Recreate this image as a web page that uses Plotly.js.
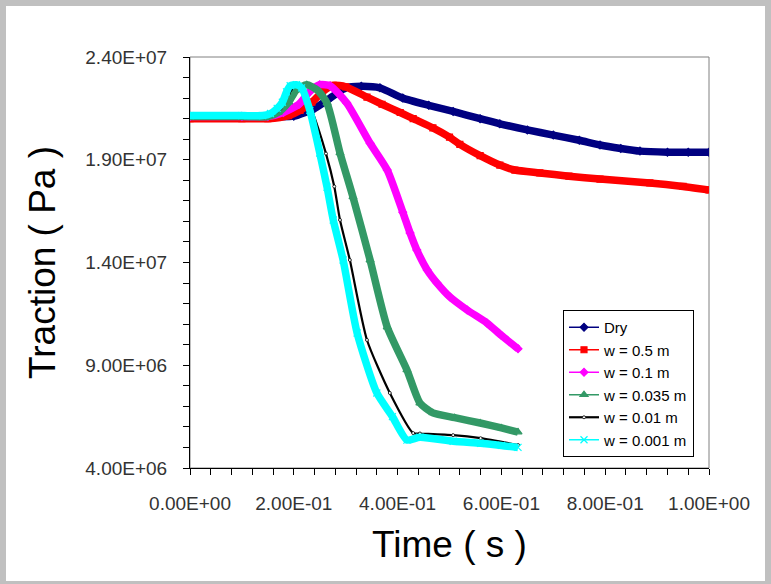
<!DOCTYPE html>
<html><head><meta charset="utf-8">
<script src="https://cdn.plot.ly/plotly-3.0.1.min.js"></script>
<style>
html,body{margin:0;padding:0;background:#C0C0C0;width:771px;height:584px;overflow:hidden}
#chart{position:absolute;left:6px;top:6px;width:759px;height:575px;background:#fff}
</style>
</head><body><div id="chart"></div>
<script>
// ---- data ----
const seriesNames = ["Dry", "w = 0.5 m", "w = 0.1 m", "w = 0.035 m", "w = 0.01 m", "w = 0.001 m"];

const timeDry = [0, 0.1, 0.15, 0.2, 0.24, 0.27, 0.3, 0.33, 0.366, 0.41, 0.46, 0.507, 0.559, 0.597, 0.65, 0.7, 0.75, 0.79, 0.83, 0.867, 0.92, 0.96, 1.0];
const tractionDry = [2.11e7, 2.11e7, 2.11e7, 2.112e7, 2.15e7, 2.2e7, 2.25e7, 2.258e7, 2.25e7, 2.2e7, 2.165e7, 2.135e7, 2.1e7, 2.075e7, 2.045e7, 2.02e7, 1.995e7, 1.972e7, 1.955e7, 1.942e7, 1.937e7, 1.937e7, 1.937e7];

const timeW05 = [0, 0.1, 0.15, 0.19, 0.212, 0.235, 0.255, 0.276, 0.3, 0.341, 0.37, 0.405, 0.43, 0.468, 0.5, 0.52, 0.559, 0.597, 0.626, 0.674, 0.73, 0.79, 0.886, 0.95, 1.0];
const tractionW05 = [2.10e7, 2.10e7, 2.10e7, 2.115e7, 2.14e7, 2.18e7, 2.23e7, 2.262e7, 2.255e7, 2.205e7, 2.17e7, 2.13e7, 2.10e7, 2.055e7, 2.01e7, 1.975e7, 1.92e7, 1.874e7, 1.85e7, 1.836e7, 1.82e7, 1.806e7, 1.787e7, 1.77e7, 1.753e7];

const timeW01 = [0, 0.1, 0.15, 0.18, 0.21, 0.23, 0.25, 0.27, 0.302, 0.347, 0.38, 0.41, 0.424, 0.437, 0.457, 0.476, 0.501, 0.534, 0.572, 0.6, 0.632];
const tractionW01 = [2.11e7, 2.11e7, 2.11e7, 2.13e7, 2.17e7, 2.23e7, 2.265e7, 2.26e7, 2.176e7, 1.98e7, 1.85e7, 1.645e7, 1.544e7, 1.461e7, 1.364e7, 1.3e7, 1.232e7, 1.169e7, 1.106e7, 1.045e7, 9.8e6];

const timeW0035 = [0, 0.1, 0.15, 0.17, 0.19, 0.205, 0.225, 0.245, 0.264, 0.289, 0.314, 0.347, 0.38, 0.418, 0.443, 0.468, 0.51, 0.559, 0.6, 0.632];
const tractionW0035 = [2.11e7, 2.11e7, 2.11e7, 2.13e7, 2.18e7, 2.24e7, 2.265e7, 2.24e7, 2.176e7, 1.933e7, 1.719e7, 1.412e7, 1.086e7, 8.77e6, 7.16e6, 6.68e6, 6.45e6, 6.19e6, 5.95e6, 5.75e6];

const timeW001 = [0, 0.1, 0.14, 0.16, 0.175, 0.19, 0.205, 0.215, 0.235, 0.262, 0.278, 0.289, 0.308, 0.341, 0.385, 0.43, 0.443, 0.507, 0.56, 0.632];
const tractionW001 = [2.11e7, 2.11e7, 2.11e7, 2.12e7, 2.15e7, 2.22e7, 2.265e7, 2.26e7, 2.14e7, 1.93e7, 1.77e7, 1.607e7, 1.412e7, 1.023e7, 7.65e6, 5.7e6, 5.68e6, 5.6e6, 5.45e6, 5.12e6];

const timeW0001 = [0, 0.1, 0.14, 0.155, 0.168, 0.178, 0.186, 0.193, 0.205, 0.215, 0.231, 0.25, 0.264, 0.276, 0.295, 0.322, 0.36, 0.39, 0.418, 0.443, 0.507, 0.56, 0.6, 0.632];
const tractionW0001 = [2.115e7, 2.115e7, 2.115e7, 2.125e7, 2.15e7, 2.18e7, 2.23e7, 2.26e7, 2.265e7, 2.25e7, 2.14e7, 1.933e7, 1.767e7, 1.607e7, 1.412e7, 1.057e7, 7.65e6, 6.5e6, 5.36e6, 5.5e6, 5.3e6, 5.2e6, 5.1e6, 5.0e6];

const xTickVals = [0, 0.2, 0.4, 0.6, 0.8, 1.0];
const xTickText = ["0.00E+00", "2.00E-01", "4.00E-01", "6.00E-01", "8.00E-01", "1.00E+00"];
const yTickVals = [4e6, 9e6, 1.4e7, 1.9e7, 2.4e7];
const yTickText = ["4.00E+06", "9.00E+06", "1.40E+07", "1.90E+07", "2.40E+07"];

// ---- styling ----
const seriesX = [timeDry, timeW05, timeW01, timeW0035, timeW001, timeW0001];
const seriesY = [tractionDry, tractionW05, tractionW01, tractionW0035, tractionW001, tractionW0001];
const styles = [
  {color: "#000080", symbol: "diamond", size: 6, thick: true},
  {color: "#FF0000", symbol: "square", size: 6, thick: true},
  {color: "#FF00FF", symbol: "diamond", size: 6, thick: true},
  {color: "#339966", symbol: "triangle-up", size: 7, thick: true},
  {color: "#000000", symbol: "circle", size: 3, thick: false},
  {color: "#00FFFF", symbol: "x-thin-open", size: 7, thick: true}
];

const traces = [];
styles.forEach((s, i) => {
  if (s.thick) {
    traces.push({
      x: seriesX[i], y: seriesY[i], type: "scatter", mode: "lines",
      line: {color: s.color, width: 7.5, shape: "spline", smoothing: 0.6},
      showlegend: false, hoverinfo: "skip"
    });
    traces.push({
      x: seriesX[i], y: seriesY[i], type: "scatter", mode: "lines+markers", name: seriesNames[i],
      line: {color: s.color, width: 1.5, shape: "spline", smoothing: 0.6},
      marker: {symbol: s.symbol, size: s.size, color: s.color, line: {color: s.color, width: 1.2}}
    });
  } else {
    traces.push({
      x: seriesX[i], y: seriesY[i], type: "scatter", mode: "lines+markers", name: seriesNames[i],
      line: {color: s.color, width: 2.2, shape: "spline", smoothing: 0.6},
      marker: {symbol: s.symbol, size: s.size, color: "#FFFFFF", line: {color: s.color, width: 0.8}}
    });
  }
});

const tickFont = {family: "Liberation Sans, Arial, sans-serif", size: 19, color: "#333"};
const titleFont = {family: "Liberation Sans, Arial, sans-serif", size: 37, color: "#000"};

const layout = {
  width: 759, height: 575,
  margin: {l: 184, r: 56, t: 51, b: 113},
  paper_bgcolor: "#FFFFFF", plot_bgcolor: "#FFFFFF",
  showlegend: true,
  legend: {
    x: 0.7187, y: 0.3844, xanchor: "left", yanchor: "top",
    bgcolor: "#FFFFFF", bordercolor: "#000000", borderwidth: 1,
    font: {family: "Liberation Sans, Arial, sans-serif", size: 15, color: "#000"},
    itemwidth: 30, tracegroupgap: 0
  },
  xaxis: {
    range: [0, 1], tickvals: xTickVals, ticktext: xTickText,
    showgrid: false, zeroline: false, showline: true, linecolor: "#000", linewidth: 1,
    ticks: "outside", ticklen: 6, tickcolor: "#000", tickwidth: 1,
    minor: {dtick: 0.04, tick0: 0, ticks: "outside", ticklen: 6, tickcolor: "#000", showgrid: false},
    tickfont: tickFont, ticklabelstandoff: 12,
    title: {text: "Time ( s )", font: titleFont, standoff: 18}
  },
  yaxis: {
    range: [4e6, 2.4e7], tickvals: yTickVals, ticktext: yTickText,
    showgrid: false, zeroline: false, showline: true, linecolor: "#000", linewidth: 1,
    ticks: "outside", ticklen: 6, tickcolor: "#000", tickwidth: 1,
    minor: {dtick: 1e6, tick0: 4e6, ticks: "outside", ticklen: 6, tickcolor: "#000", showgrid: false},
    tickfont: tickFont, ticklabelstandoff: 12,
    title: {text: "Traction ( Pa )", font: titleFont, standoff: 18}
  },
  shapes: [{
    type: "rect", xref: "paper", yref: "paper", x0: 0, x1: 1, y0: 0, y1: 1,
    line: {color: "#808080", width: 1}, fillcolor: "rgba(0,0,0,0)", layer: "below"
  }]
};

Plotly.newPlot("chart", traces, layout, {displayModeBar: false, staticPlot: true});
</script>
</body></html>
